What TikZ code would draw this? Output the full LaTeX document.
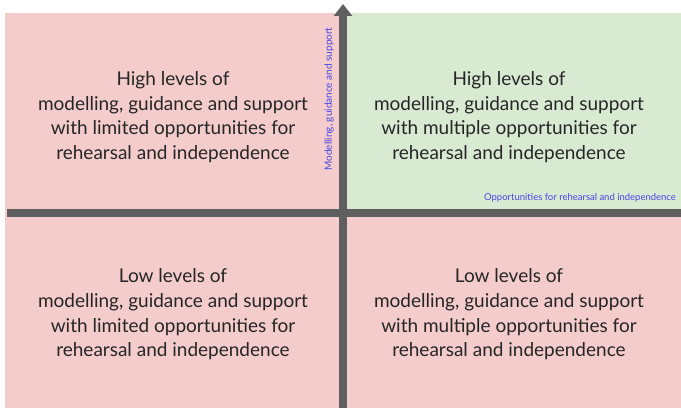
\documentclass[tikz,border=0pt]{standalone}
\usepackage{fontspec}
\setmainfont{Lato}
\usetikzlibrary{arrows.meta}
\definecolor{quadpink}{HTML}{F4CCCC}
\definecolor{quadgreen}{HTML}{D9EAD3}
\definecolor{axisgray}{HTML}{5F5F5F}
\definecolor{labelblue}{HTML}{4646E6}
\definecolor{bodytext}{HTML}{262626}
\begin{document}
\begin{tikzpicture}[x=1pt,y=1pt,
  quadtext/.style={align=center,text=bodytext,font=\fontsize{19}{24.6}\selectfont,inner sep=0pt},
  axislabel/.style={text=labelblue,inner sep=0pt},
  axisline/.style={draw=axisgray,line width=8.5pt}]
\useasboundingbox (0,0) rectangle (681,408);
% quadrant backgrounds
\fill[quadpink] (5,195) rectangle (343,395);
\fill[quadgreen] (343,195) rectangle (681,395);
\fill[quadpink] (5,0) rectangle (681,195);
% axes
\coordinate (hleft) at (7,195);
\coordinate (hright) at (681,195);
\coordinate (vbottom) at (343,0);
\coordinate (vtop) at (343,404);
\draw[axisline] (hleft) -- (hright);
\draw[axisline,-{Triangle[width=18pt,length=12pt]}] (vbottom) -- (vtop);
% axis labels
\node[axislabel,rotate=90,font=\fontsize{10}{12}\selectfont] (ylab) at (329,309) {Modelling, guidance and support};
\node[axislabel,font=\fontsize{9.5}{11}\selectfont] (xlab) at (580,210) {Opportunities for rehearsal and independence};
% quadrant texts
\node[quadtext] (tl) at (173,291) {High levels of\\modelling, guidance and support\\with limited opportunities for\\rehearsal and independence};
\node[quadtext] (tr) at (509,291) {High levels of\\modelling, guidance and support\\with multiple opportunities for\\rehearsal and independence};
\node[quadtext] (bl) at (173,93.5) {Low levels of\\modelling, guidance and support\\with limited opportunities for\\rehearsal and independence};
\node[quadtext] (br) at (509,93.5) {Low levels of\\modelling, guidance and support\\with multiple opportunities for\\rehearsal and independence};
\end{tikzpicture}
\end{document}
